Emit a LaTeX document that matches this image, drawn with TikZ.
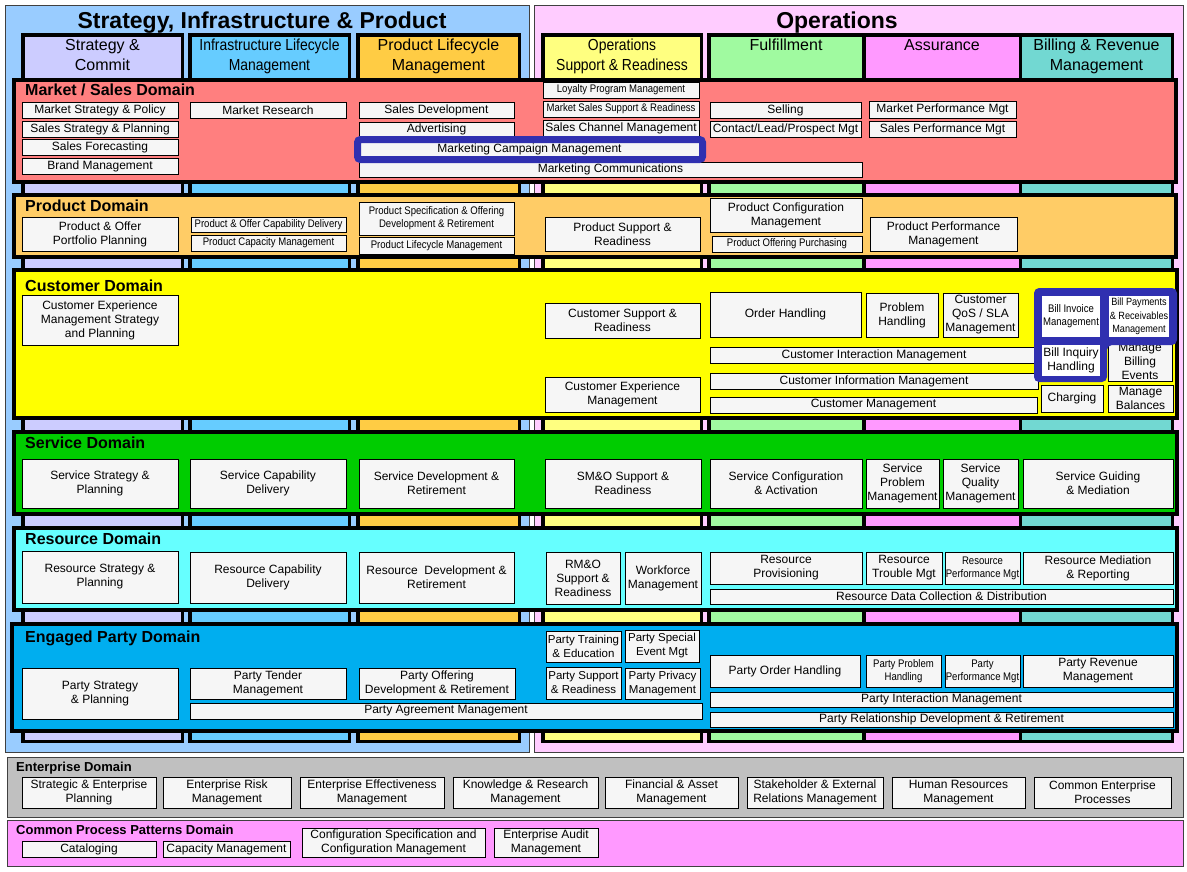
\documentclass[tikz,border=0pt]{standalone}
\usepackage{fontspec}
\setmainfont{Liberation Sans}
\newfontfamily\nfont{Liberation Sans}[FakeStretch=0.87]
\definecolor{pL}{HTML}{99CCFF}
\definecolor{pR}{HTML}{FFCCFF}
\definecolor{cSC}{HTML}{CCCCFF}
\definecolor{cIL}{HTML}{66CCFF}
\definecolor{cPL}{HTML}{FFCC44}
\definecolor{cOS}{HTML}{FFFF80}
\definecolor{cFU}{HTML}{A0FAA0}
\definecolor{cAS}{HTML}{FF99FF}
\definecolor{cBR}{HTML}{72D8D2}
\definecolor{dMK}{HTML}{FF7F7F}
\definecolor{dPR}{HTML}{FFCC66}
\definecolor{dCU}{HTML}{FFFF00}
\definecolor{dSV}{HTML}{00CC00}
\definecolor{dRS}{HTML}{66FFFF}
\definecolor{dEP}{HTML}{00AEEF}
\definecolor{dEN}{HTML}{C0C0C0}
\definecolor{dCP}{HTML}{FF99FF}
\definecolor{boxfill}{HTML}{F6F6F6}
\definecolor{hlblue}{HTML}{3030B0}
\definecolor{pborder}{HTML}{404040}
\newcommand{\pb}[7][]{\node[box,minimum width={#5pt-#3pt},minimum height={#6pt-#4pt},#1] (#2) at ({(#3+#5)/2},{(#4+#6)/2}) {#7};}
\tikzset{
  box/.style={draw=black, line width=0.9pt, fill=boxfill, inner sep=0pt, align=center, font=\fontsize{12}{14}\selectfont},
  nar/.style={font=\nfont\fontsize{11}{13}\selectfont},
  wb/.style={draw=none, fill=white},
  col/.style={draw=black, line width=3.5pt},
  dom/.style={draw=black, line width=4pt},
  panel/.style={draw=pborder, line width=0.9pt},
  colhead/.style={anchor=north, align=center, inner sep=0pt, font=\fontsize{16}{20}\selectfont},
  colheadn/.style={colhead, font=\nfont\fontsize{16}{20}\selectfont},
  dtitle/.style={anchor=base west, inner sep=0pt, font=\bfseries\fontsize{16}{18}\selectfont},
  etitle/.style={anchor=base west, inner sep=0pt, font=\bfseries\fontsize{13}{15}\selectfont},
  ptitle/.style={anchor=base, inner sep=0pt, font=\bfseries\fontsize{23}{26}\selectfont},
  hl/.style={draw=hlblue, line width=7pt, rounded corners=3pt}
}
\begin{document}
\begin{tikzpicture}[x=1pt,y=-1pt]
\useasboundingbox (0,0) rectangle (1187,871);
\fill[white] (0,0) rectangle (1187,871);
% panels
\draw[panel, fill=pL] (5.5,5.5) rectangle (529.5,752);
\draw[panel, fill=pR] (534.5,5.5) rectangle (1183,752);
\node[ptitle] (tSIP) at (262,28) {Strategy, Infrastructure \& Product};
\node[ptitle] (tOPS) at (837,28) {Operations};
% columns
\draw[col, fill=cSC] (22.75,34.75) rectangle (182.25,741.25);
\draw[col, fill=cIL] (189.75,34.75) rectangle (349.25,741.25);
\draw[col, fill=cPL] (357.75,34.75) rectangle (519.25,741.25);
\draw[col, fill=cOS] (542.75,34.75) rectangle (701.25,741.25);
\draw[col, fill=cFU] (708.75,34.75) rectangle (864,741.25);
\draw[col, fill=cAS] (864,34.75) rectangle (1020.5,741.25);
\draw[col, fill=cBR] (1020.5,34.75) rectangle (1172.25,741.25);
\node[colhead] (hSC) at (102.5,39) {Strategy \&\\Commit};
\node[colheadn] (hIL) at (269.5,39) {Infrastructure Lifecycle\\Management};
\node[colhead] (hPL) at (438.5,39) {Product Lifecycle\\Management};
\node[colheadn] (hOS) at (622,39) {Operations\\Support \& Readiness};
\node[colhead] (hFU) at (786,39) {Fulfillment};
\node[colhead] (hAS) at (942,39) {Assurance};
\node[colhead] (hBR) at (1096.5,39) {Billing \& Revenue\\Management};
% domains
\draw[dom, fill=dMK] (14,80) rectangle (1176,182);
\draw[dom, fill=dPR] (14,195) rectangle (1176,257);
\draw[dom, fill=dCU] (14,270) rectangle (1177,418);
\draw[dom, fill=dSV] (14,432) rectangle (1177,514);
\draw[dom, fill=dRS] (14,528) rectangle (1177,610);
\draw[dom, fill=dEP] (12,624) rectangle (1177,731);
\node[dtitle] (tMK) at (25,95) {Market / Sales Domain};
\node[dtitle] (tPR) at (25,211) {Product Domain};
\node[dtitle] (tCU) at (25,291) {Customer Domain};
\node[dtitle] (tSV) at (25,448) {Service Domain};
\node[dtitle] (tRS) at (25,544) {Resource Domain};
\node[dtitle] (tEP) at (25,642) {Engaged Party Domain};
% market / sales
\pb{mk1}{22}{102}{178}{118}{Market Strategy \& Policy}
\pb{mk2}{22}{121}{178}{137}{Sales Strategy \& Planning}
\pb{mk3}{22}{139}{178}{155}{Sales Forecasting}
\pb{mk4}{22}{158}{178}{174}{Brand Management}
\pb{mk5}{190}{102}{346}{118}{Market Research}
\pb{mk6}{359}{102}{514}{118}{Sales Development}
\pb{mk7}{359}{122}{514}{137}{Advertising}
\pb{mk8}{359}{142}{700}{157}{Marketing Campaign Management}
\pb{mk9}{359}{162}{862}{177}{Marketing Communications}
\pb[nar]{mk10}{543}{82}{699}{98}{Loyalty Program Management}
\pb[nar]{mk11}{543}{101}{699}{117}{Market Sales Support \& Readiness}
\pb{mk12}{543}{120}{699}{137}{Sales Channel Management}
\pb{mk13}{710}{102}{861}{118}{Selling}
\pb{mk14}{710}{121}{861}{137}{Contact/Lead/Prospect Mgt}
\pb{mk15}{869}{101}{1016}{118}{Market Performance Mgt}
\pb{mk16}{869}{121}{1016}{137}{Sales Performance Mgt}
\draw[hl] (357.5,139.5) rectangle (702.5,159.5);
% product
\pb{pd1}{22}{217}{178}{251}{Product \& Offer\\Portfolio Planning}
\pb[nar]{pd2}{191}{217}{346}{232}{Product \& Offer Capability Delivery}
\pb[nar]{pd3}{191}{235}{346}{251}{Product Capacity Management}
\pb[nar]{pd4}{359}{202}{514}{235}{Product Specification \& Offering\\Development \& Retirement}
\pb[nar]{pd5}{359}{237}{514}{254}{Product Lifecycle Management}
\pb{pd6}{545}{217}{700}{251}{Product Support \&\\Readiness}
\pb{pd7}{710}{198}{862}{232}{Product Configuration\\Management}
\pb[nar]{pd8}{712}{236}{862}{252}{Product Offering Purchasing}
\pb{pd9}{870}{217}{1017}{251}{Product Performance\\Management}
% customer
\pb{cu1}{22}{295}{178}{345}{Customer Experience\\Management Strategy\\and Planning}
\pb{cu2}{545}{303}{700}{338}{Customer Support \&\\Readiness}
\pb{cu3}{545}{377}{700}{412}{Customer Experience\\Management}
\pb{cu4}{710}{292}{861}{337}{Order Handling}
\pb{cu5}{866}{293}{938}{337}{Problem\\Handling}
\pb{cu6}{943}{293}{1018}{337}{Customer\\QoS / SLA\\Management}
\pb{cu7}{710}{347}{1038}{363}{Customer Interaction Management}
\pb{cu8}{710}{373}{1038}{389}{Customer Information Management}
\pb{cu9}{710}{397}{1037}{413}{Customer Management}
\pb{cu10}{1108}{341}{1172}{381}{Manage\\Billing\\Events}
\fill[hlblue, rounded corners=5pt] (1034,288) -- (1177,288) -- (1177,345) -- (1107,345) -- (1107,382) -- (1034,382) -- cycle;
\pb[wb,nar]{cu11}{1042}{296}{1100}{337}{Bill Invoice\\Management}
\pb[wb,font=\nfont\fontsize{10.5}{13.5}\selectfont]{cu12}{1109}{296}{1169}{337}{Bill Payments\\\& Receivables\\Management}
\pb[wb]{cu13}{1042}{345}{1100}{376}{Bill Inquiry\\Handling}
\pb{cu14}{1041}{385}{1103}{412}{Charging}
\pb[font=\fontsize{12}{13.5}\selectfont]{cu15}{1108}{385}{1173}{412}{Manage\\Balances}
% service
\pb{sv1}{22}{459}{178}{508}{Service Strategy \&\\Planning}
\pb{sv2}{190}{459}{346}{508}{Service Capability\\Delivery}
\pb{sv3}{359}{459}{514}{508}{Service Development \&\\Retirement}
\pb{sv4}{545}{459}{701}{508}{SM\&O Support \&\\Readiness}
\pb{sv5}{710}{459}{862}{508}{Service Configuration\\\& Activation}
\pb{sv6}{866}{459}{939}{508}{Service\\Problem\\Management}
\pb{sv7}{943}{459}{1018}{508}{Service\\Quality\\Management}
\pb{sv8}{1023}{459}{1173}{508}{Service Guiding\\\& Mediation}
% resource
\pb{rs1}{22}{551}{178}{603}{Resource Strategy \&\\Planning}
\pb{rs2}{190}{552}{346}{603}{Resource Capability\\Delivery}
\pb{rs3}{359}{552}{514}{603}{Resource\ \ Development \&\\Retirement}
\pb{rs4}{546}{552}{620}{604}{RM\&O\\Support \&\\Readiness}
\pb{rs5}{625}{552}{701}{604}{Workforce\\Management}
\pb{rs6}{710}{552}{862}{584}{Resource\\Provisioning}
\pb{rs7}{866}{552}{942}{584}{Resource\\Trouble Mgt}
\pb[nar]{rs8}{945}{552}{1020}{584}{Resource\\Performance Mgt}
\pb{rs9}{1023}{552}{1173}{584}{Resource Mediation\\\& Reporting}
\pb{rs10}{710}{589}{1173}{604}{Resource Data Collection \& Distribution}
% engaged party
\pb{ep1}{22}{668}{178}{719}{Party Strategy\\\& Planning}
\pb{ep2}{190}{668}{346}{699}{Party Tender\\Management}
\pb{ep3}{359}{668}{515}{699}{Party Offering\\Development \& Retirement}
\pb{ep4}{190}{703}{702}{719}{Party Agreement Management}
\pb[font=\fontsize{11.5}{14}\selectfont]{ep5}{546}{631}{621}{662}{Party Training\\\& Education}
\pb[font=\fontsize{11.5}{14}\selectfont]{ep6}{625}{630}{699}{662}{Party Special\\Event Mgt}
\pb[font=\fontsize{11.5}{14}\selectfont]{ep7}{546}{667}{621}{699}{Party Support\\\& Readiness}
\pb[font=\fontsize{11.5}{14}\selectfont]{ep8}{625}{668}{700}{699}{Party Privacy\\Management}
\pb{ep9}{710}{655}{860}{687}{Party Order Handling}
\pb[nar]{ep10}{866}{655}{941}{687}{Party Problem\\Handling}
\pb[nar]{ep11}{945}{655}{1020}{687}{Party\\Performance Mgt}
\pb{ep12}{1023}{655}{1173}{687}{Party Revenue\\Management}
\pb{ep13}{710}{692}{1173}{707}{Party Interaction Management}
\pb{ep14}{710}{712}{1173}{727}{Party Relationship Development \& Retirement}
% enterprise
\draw[panel, fill=dEN] (7.5,757.5) rectangle (1183,817.5);
\node[etitle] (tEN) at (16,771) {Enterprise Domain};
\pb{en1}{22}{777}{156}{808}{Strategic \& Enterprise\\Planning}
\pb{en2}{163}{777}{291}{808}{Enterprise Risk\\Management}
\pb{en3}{300}{777}{444}{808}{Enterprise Effectiveness\\Management}
\pb{en4}{453}{777}{598}{808}{Knowledge \& Research\\Management}
\pb{en5}{605}{777}{738}{808}{Financial \& Asset\\Management}
\pb{en6}{747}{777}{883}{808}{Stakeholder \& External\\Relations Management}
\pb{en7}{892}{777}{1025}{808}{Human Resources\\Management}
\pb{en8}{1034}{777}{1171}{808}{Common Enterprise\\Processes}
% common process patterns
\draw[panel, fill=dCP] (7.5,820.5) rectangle (1183,866);
\node[etitle] (tCP) at (16,834) {Common Process Patterns Domain};
\pb{cp1}{22}{841}{156}{857}{Cataloging}
\pb{cp2}{163}{841}{290}{857}{Capacity Management}
\pb[font=\fontsize{12}{14}\selectfont]{cp3}{302}{828}{485}{857}{Configuration Specification and\\Configuration Management}
\pb{cp4}{494}{828}{598}{857}{Enterprise Audit\\Management}
\end{tikzpicture}
\end{document}
